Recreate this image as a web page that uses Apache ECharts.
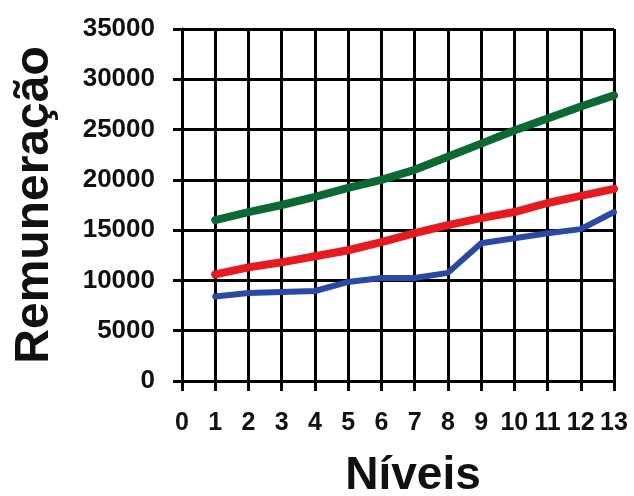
<!DOCTYPE html>
<html>
<head>
<meta charset="utf-8">
<script src="https://cdn.jsdelivr.net/npm/echarts@6/dist/echarts.min.js"></script>
<style>html,body{margin:0;padding:0;background:#fff}#c{width:634px;height:496px}</style>
</head>
<body>
<div id="c"></div>
<script>
const niveis = [1,2,3,4,5,6,7,8,9,10,11,12,13];
const serieVerde = [16000,16800,17500,18300,19200,20000,21000,22300,23600,24900,26100,27300,28400];
const serieVermelha = [10600,11300,11800,12400,13000,13800,14700,15500,16200,16800,17700,18400,19100];
const serieAzul = [8400,8750,8850,8950,9850,10250,10250,10750,13700,14200,14700,15100,16800];
const yTicks = {min:0, max:35000, step:5000};
const xTicks = {min:0, max:13, step:1};

const pairs = arr => niveis.map((n,i)=>[n, arr[i]]);
const font = '"Liberation Sans", Arial, sans-serif';
const chart = echarts.init(document.getElementById('c'), null, {renderer:'canvas'});
chart.setOption({
  animation:false,
  backgroundColor:'#fff',
  grid:{left:182, right:20, top:29, bottom:115, containLabel:false, outerBoundsMode:'none'},
  xAxis:{
    type:'value', min:xTicks.min, max:xTicks.max, interval:xTicks.step,
    name:'Níveis', nameLocation:'middle', nameGap:72,
    nameTextStyle:{fontFamily:font, fontWeight:'bold', fontSize:46, color:'#111', padding:[0,0,0,30]},
    axisLine:{show:true, lineStyle:{color:'#000', width:3}},
    axisTick:{show:true, length:10, lineStyle:{color:'#000', width:3}},
    axisLabel:{fontFamily:font, fontWeight:'bold', fontSize:25, color:'#111', margin:30, interval:0, hideOverlap:false,
      formatter:v=>String(v)},
    splitLine:{show:true, lineStyle:{color:'#000', width:3}}
  },
  yAxis:{
    type:'value', min:yTicks.min, max:yTicks.max, interval:yTicks.step,
    name:'Remuneração', nameLocation:'middle', nameGap:123, nameRotate:90,
    nameTextStyle:{fontFamily:font, fontWeight:'bold', fontSize:48, color:'#111'},
    axisLine:{show:true, lineStyle:{color:'#000', width:3}},
    axisTick:{show:true, length:9, lineStyle:{color:'#000', width:3}},
    axisLabel:{fontFamily:font, fontWeight:'bold', fontSize:26, color:'#111', margin:27,
      formatter:v=>String(v)},
    splitLine:{show:true, lineStyle:{color:'#000', width:3}}
  },
  series:[
    {type:'line', data:pairs(serieVerde), showSymbol:false, lineStyle:{color:'#0b6a33', width:8, cap:'round'}},
    {type:'line', data:pairs(serieVermelha), showSymbol:false, lineStyle:{color:'#e51b1f', width:8, cap:'round'}},
    {type:'line', data:pairs(serieAzul), showSymbol:false, lineStyle:{color:'#2a48a6', width:6, cap:'round'}}
  ]
});
</script>
</body>
</html>
